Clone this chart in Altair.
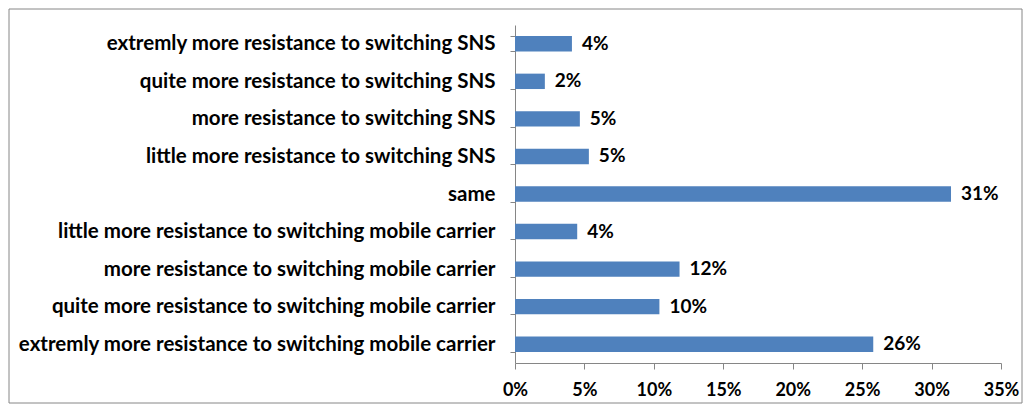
import altair as alt
import pandas as pd

categories = [
    "extremly more resistance to switching SNS",
    "quite more resistance to switching SNS",
    "more resistance to switching SNS",
    "little more resistance to switching SNS",
    "same",
    "little more resistance to switching mobile carrier",
    "more resistance to switching mobile carrier",
    "quite more resistance to switching mobile carrier",
    "extremly more resistance to switching mobile carrier",
]
values = [0.041, 0.0215, 0.0467, 0.0532, 0.314, 0.0448, 0.1185, 0.104, 0.258]
labels = ["4%", "2%", "5%", "5%", "31%", "4%", "12%", "10%", "26%"]
x_ticks = [0, 0.05, 0.10, 0.15, 0.20, 0.25, 0.30, 0.35]

df = pd.DataFrame({"category": categories, "value": values, "label": labels})

FONT = "Lato"
GRAY = "#868686"
BLUE = "#4F81BD"

y_enc = alt.Y(
    "category:N",
    sort=categories,
    title=None,
    scale=alt.Scale(paddingInner=0.59, paddingOuter=0.295),
    axis=alt.Axis(
        labelFont=FONT, labelFontSize=20.5, labelFontWeight="bold", labelColor="black",
        labelPadding=15, tickSize=5, tickColor=GRAY, domainColor=GRAY,
        tickBand="extent", minExtent=495, maxExtent=495, labelLimit=600,
    ),
)
x_enc = alt.X(
    "value:Q",
    title=None,
    scale=alt.Scale(domain=[0, 0.35], nice=False),
    axis=alt.Axis(
        format=".0%", values=x_ticks, labelFont=FONT, labelFontSize=18,
        labelFontWeight="bold", labelColor="black", labelPadding=12,
        labelFlush=False, tickSize=6, tickColor=GRAY, domainColor=GRAY,
        grid=False,
    ),
)

bars = alt.Chart(df).mark_bar(color=BLUE).encode(x=x_enc, y=y_enc)
text = alt.Chart(df).mark_text(
    align="left", baseline="middle", dx=10, font=FONT, fontSize=19,
    fontWeight="bold", color="black",
).encode(x="value:Q", y=alt.Y("category:N", sort=categories), text="label:N")

border = alt.Chart(pd.DataFrame({"a": [1]})).mark_rect(
    fill=None, stroke=GRAY, strokeWidth=1
).encode(
    x=alt.value(-506), x2=alt.value(507), y=alt.value(-16), y2=alt.value(378)
)

chart = alt.layer(border, bars, text).properties(
    width=486, height=338,
    padding={"left": 507, "top": 17, "right": 22, "bottom": 41},
    autosize=alt.AutoSizeParams(type="none"),
).configure_view(stroke=None)

chart.save("out.html", embed_options={"renderer": "svg", "actions": False})
